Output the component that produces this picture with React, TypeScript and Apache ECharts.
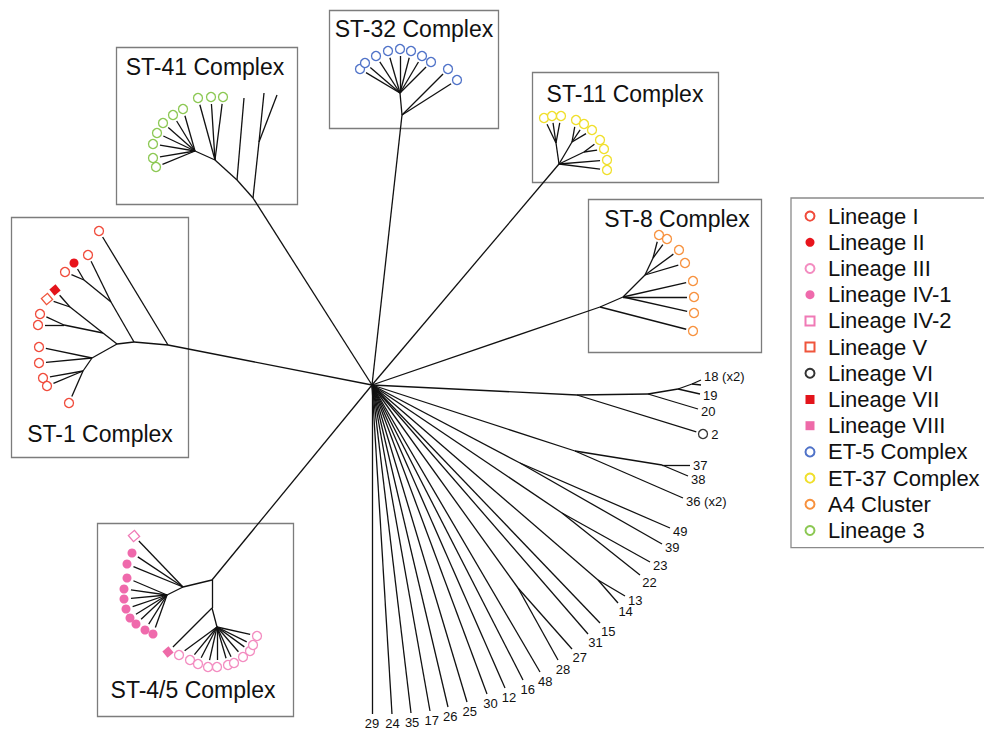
import React, { useEffect, useRef } from "react";
import * as echarts from "echarts";

// ---------------------------------------------------------------------------
// Tree data (plot units: x to the right, y downward)
// ---------------------------------------------------------------------------

// Internal nodes: [id, parent, x, y]
const internalNodes: [string, string | null, number, number][] = [
  ["hub", null, 372, 385],
  // ST-41 complex
  ["a41", "hub", 253, 198],
  ["b41", "a41", 259, 142],
  ["c41", "a41", 237, 180],
  ["d41", "c41", 215, 160],
  ["e41", "d41", 195, 151],
  // ST-32 complex
  ["a32", "hub", 402, 115],
  ["b32", "a32", 400, 93],
  // ST-11 complex
  ["a11", "hub", 559, 164],
  ["b11", "a11", 556, 143],
  ["c11", "a11", 572, 142],
  ["d11", "a11", 584, 152],
  // ST-8 complex
  ["a8", "hub", 600, 307],
  ["b8", "a8", 623, 297],
  ["c8", "b8", 645, 275],
  ["d8", "c8", 653, 258],
  // ST-1 complex
  ["a1", "hub", 168, 345],
  ["b1", "a1", 134, 342],
  ["c1", "b1", 111, 302],
  ["d1", "c1", 84, 280],
  ["e1", "b1", 117, 344],
  ["f1", "e1", 103, 333],
  ["g1", "f1", 64, 325],
  ["h1", "f1", 70, 307],
  ["i1", "e1", 92, 358],
  ["j1", "i1", 83, 371],
  // ST-4/5 complex
  ["a45", "hub", 212, 580],
  ["b45", "a45", 183, 587],
  ["c45", "b45", 167, 595],
  ["d45", "a45", 212, 608],
  ["e45", "d45", 217, 627],
  // unassigned isolates
  ["r1", "hub", 577, 395],
  ["r2", "r1", 648, 394],
  ["r3", "r2", 678, 389],
  ["r4", "r3", 692, 384],
  ["r5", "hub", 575, 451],
  ["r6", "r5", 662, 465],
  ["r7", "hub", 520, 463],
  ["r8", "hub", 562, 513],
  ["r9", "hub", 598, 580],
  ["r10", "hub", 518, 588],
];

// Branch tips without marker or label: [parent, x, y]
const bareTips: [string, number, number][] = [
  ["b41", 264, 93],
  ["b41", 277, 95],
  ["c41", 244, 98],
  ["r4", 701, 385],
];

// Numbered isolates: [label, parent, x, y]
const numberedTips: [string, string, number, number][] = [
  ["18 (x2)", "r4", 701, 380],
  ["19", "r3", 700, 394],
  ["20", "r2", 698, 409],
  ["37", "r6", 690, 465],
  ["38", "r6", 688, 476],
  ["36 (x2)", "r5", 683, 498],
  ["49", "r7", 670, 528],
  ["39", "r7", 662, 544],
  ["23", "r8", 650, 562],
  ["22", "r8", 640, 575],
  ["13", "r9", 625, 596],
  ["14", "r9", 618, 603],
  ["15", "hub", 600, 623],
  ["31", "hub", 588, 634],
  ["27", "r10", 572, 649],
  ["28", "r10", 558, 660],
  ["48", "hub", 540, 672],
  ["16", "hub", 523, 680],
  ["12", "hub", 505, 688],
  ["30", "hub", 487, 694],
  ["25", "hub", 467, 702],
  ["26", "hub", 448, 707],
  ["17", "hub", 430, 711],
  ["35", "hub", 411, 713],
  ["24", "hub", 392, 714],
  ["29", "hub", 372, 714],
];

// Marked isolates per lineage: [parent, x, y, label?]
const lineageI: [string, number, number][] = [
  ["a1", 99, 231], ["c1", 88, 255], ["d1", 65, 272],
  ["g1", 40, 314], ["g1", 38, 325], ["i1", 39, 347], ["i1", 39, 363],
  ["j1", 43, 378], ["j1", 47, 386], ["j1", 69, 403],
];
const lineageII: [string, number, number][] = [["d1", 74, 263]];
const lineageIII: [string, number, number][] = [
  ["e45", 179, 655], ["e45", 190, 660], ["e45", 198, 664], ["e45", 208, 667],
  ["e45", 217, 667], ["e45", 228, 665], ["e45", 234, 663], ["e45", 243, 657],
  ["e45", 250, 651], ["e45", 253, 645], ["e45", 257, 636],
];
const lineageIV1: [string, number, number][] = [
  ["b45", 132, 553], ["b45", 127, 564], ["c45", 127, 578], ["c45", 124, 589],
  ["c45", 124, 599], ["c45", 126, 609], ["c45", 130, 618], ["c45", 136, 624],
  ["c45", 145, 630], ["c45", 153, 634],
];
const lineageIV2: [string, number, number][] = [["b45", 134, 536]];
const lineageV: [string, number, number][] = [["h1", 47, 299]];
const lineageVI: [string, number, number, string][] = [["r1", 703, 434, "2"]];
const lineageVII: [string, number, number][] = [["h1", 55, 290]];
const lineageVIII: [string, number, number][] = [["d45", 168, 652]];
const et5Complex: [string, number, number][] = [
  ["b32", 360, 69], ["b32", 365, 63], ["b32", 376, 56], ["b32", 388, 51],
  ["b32", 400, 49], ["b32", 411, 51], ["b32", 422, 56], ["b32", 431, 62],
  ["a32", 448, 69], ["a32", 457, 80],
];
const et37Complex: [string, number, number][] = [
  ["b11", 544, 118], ["b11", 552, 116], ["b11", 561, 116],
  ["c11", 576, 120], ["c11", 584, 124], ["c11", 592, 130],
  ["d11", 600, 140], ["d11", 604, 149],
  ["a11", 607, 160], ["a11", 607, 170],
];
const a4Cluster: [string, number, number][] = [
  ["d8", 659, 235], ["d8", 667, 239], ["c8", 679, 250], ["c8", 685, 263],
  ["b8", 693, 281], ["b8", 694, 297], ["b8", 694, 313], ["a8", 693, 331],
];
const lineage3: [string, number, number][] = [
  ["d41", 198, 98], ["d41", 211, 97], ["d41", 223, 97],
  ["e41", 183, 109], ["e41", 173, 115], ["e41", 163, 123], ["e41", 157, 133],
  ["e41", 153, 144], ["e41", 153, 158], ["e41", 156, 167],
];

const lineageNames = [
  "Lineage I", "Lineage II", "Lineage III", "Lineage IV-1", "Lineage IV-2",
  "Lineage V", "Lineage VI", "Lineage VII", "Lineage VIII", "ET-5 Complex",
  "ET-37 Complex", "A4 Cluster", "Lineage 3",
];
const lineageMembers: [string, number, number, string?][][] = [
  lineageI, lineageII, lineageIII, lineageIV1, lineageIV2, lineageV, lineageVI,
  lineageVII, lineageVIII, et5Complex, et37Complex, a4Cluster, lineage3,
];

const complexTitles = [
  "ST-41 Complex", "ST-32 Complex", "ST-11 Complex",
  "ST-8 Complex", "ST-1 Complex", "ST-4/5 Complex",
];

// ---------------------------------------------------------------------------
// Styling
// ---------------------------------------------------------------------------
const FONT = '"Liberation Sans", Arial, Helvetica, sans-serif';
const NUM_FONT = 13;
const NUM_COLOR = "#111";

// marker style per lineage (same order as lineageNames)
const markerStyles: { shape: "circle" | "rect"; filled: boolean; color: string }[] = [
  { shape: "circle", filled: false, color: "#f04a3a" },
  { shape: "circle", filled: true, color: "#e8141c" },
  { shape: "circle", filled: false, color: "#f38cc0" },
  { shape: "circle", filled: true, color: "#ef6aac" },
  { shape: "rect", filled: false, color: "#f07ab6" },
  { shape: "rect", filled: false, color: "#ef553c" },
  { shape: "circle", filled: false, color: "#333333" },
  { shape: "rect", filled: true, color: "#e3141b" },
  { shape: "rect", filled: true, color: "#ee6aa8" },
  { shape: "circle", filled: false, color: "#4f72c8" },
  { shape: "circle", filled: false, color: "#f0df2a" },
  { shape: "circle", filled: false, color: "#f7913d" },
  { shape: "circle", filled: false, color: "#8cc853" },
];

// frames around the clonal complexes (same order as complexTitles)
const frameLayout = [
  { x: 116, y: 47, w: 181, h: 157, tx: 205, ty: 67 },
  { x: 329, y: 10, w: 169, h: 118, tx: 414, ty: 29 },
  { x: 532, y: 72, w: 186, h: 110, tx: 625, ty: 94 },
  { x: 588, y: 199, w: 173, h: 153, tx: 677, ty: 219 },
  { x: 11, y: 217, w: 177, h: 240, tx: 100, ty: 434 },
  { x: 97, y: 523, w: 196, h: 193, tx: 193, ty: 690 },
];

const W = 984;
const H = 730;

function shorten(a: number[], b: number[], d: number): number[] {
  const dx = b[0] - a[0];
  const dy = b[1] - a[1];
  const len = Math.hypot(dx, dy) || 1;
  return [b[0] - (dx / len) * d, b[1] - (dy / len) * d];
}

function numberLabel(text: string, extra: Record<string, any>) {
  return {
    show: true,
    formatter: text,
    color: NUM_COLOR,
    fontFamily: FONT,
    fontSize: NUM_FONT,
    textBorderWidth: 0,
    textShadowBlur: 0,
    opacity: 1,
    ...extra,
  };
}

function buildOption() {
  const pos = new Map<string, number[]>();
  internalNodes.forEach(([id, , x, y]) => pos.set(id, [x, y]));

  const segments: { coords: number[][] }[] = [];
  internalNodes.forEach(([, parent, x, y]) => {
    if (parent) segments.push({ coords: [pos.get(parent)!, [x, y]] });
  });
  bareTips.forEach(([p, x, y]) => segments.push({ coords: [pos.get(p)!, [x, y]] }));
  numberedTips.forEach(([, p, x, y]) => segments.push({ coords: [pos.get(p)!, [x, y]] }));
  lineageMembers.forEach((members) =>
    members.forEach(([p, x, y]) => {
      const from = pos.get(p)!;
      segments.push({ coords: [from, shorten(from, [x, y], 7)] });
    })
  );

  // labels for the numbered isolates, placed beyond the tip along the branch
  const tipLabels = numberedTips.map(([label, p, x, y]) => {
    const from = pos.get(p)!;
    const dx = x - from[0];
    const dy = y - from[1];
    const len = Math.hypot(dx, dy) || 1;
    const ux = dx / len;
    const uy = dy / len;
    let ax: number;
    let ay: number;
    let align: string;
    if (ux >= 0.85) {
      ax = x + 3;
      ay = y + uy * 8;
      align = "left";
    } else {
      const halfW = (label.length * NUM_FONT * 0.556) / 2;
      const halfH = NUM_FONT / 2;
      const reach =
        Math.min(ux > 0.01 ? halfW / ux : 1e9, uy > 0.01 ? halfH / uy : 1e9) + 3;
      ax = x + ux * reach;
      ay = y + uy * reach;
      align = "center";
    }
    return {
      value: [ax, ay],
      label: numberLabel(label, { position: "inside", align, verticalAlign: "middle" }),
    };
  });

  const lineageSeries = lineageNames.map((name, i) => {
    const st = markerStyles[i];
    return {
      type: "scatter",
      name,
      silent: true,
      z: 5,
      symbol: st.shape,
      symbolSize: st.shape === "rect" ? 8 : 9,
      symbolRotate: st.shape === "rect" ? 40 : 0,
      itemStyle: st.filled
        ? { color: st.color, opacity: 1 }
        : { color: "#ffffff", borderColor: st.color, borderWidth: 1.3, opacity: 1 },
      data: lineageMembers[i].map((m) => ({
        value: [m[1], m[2]],
        label: m[3] ? numberLabel(m[3], { position: "right", distance: 3 }) : undefined,
      })),
    };
  });

  const graphics: any[] = [];
  frameLayout.forEach((f, i) => {
    graphics.push({
      type: "rect",
      silent: true,
      shape: { x: f.x + 0.5, y: f.y + 0.5, width: f.w, height: f.h },
      style: { fill: "none", stroke: "#7c7c7c", lineWidth: 1.3 },
      z: 0,
    });
    graphics.push({
      type: "text",
      silent: true,
      x: f.tx,
      y: f.ty,
      style: {
        text: complexTitles[i],
        fontFamily: FONT,
        fontSize: 23,
        fill: "#111",
        align: "center",
        verticalAlign: "middle",
      },
      z: 10,
    });
  });

  return {
    animation: false,
    backgroundColor: "#ffffff",
    grid: { left: 0, right: 0, top: 0, bottom: 0, containLabel: false },
    xAxis: { type: "value", min: 0, max: W, show: false },
    yAxis: { type: "value", min: 0, max: H, inverse: true, show: false },
    legend: {
      orient: "vertical",
      left: 791,
      top: 198,
      padding: [5, 14, 4, 13.5],
      itemGap: 0,
      itemWidth: 9,
      itemHeight: 9,
      symbolRotate: 0,
      selectedMode: false,
      borderColor: "#8a8a8a",
      borderWidth: 1.3,
      data: lineageNames,
      textStyle: {
        fontFamily: FONT,
        fontSize: 22,
        color: "#111",
        lineHeight: 26.2,
        padding: [0, 0, 0, 8.5],
      },
    },
    graphic: graphics,
    series: [
      {
        type: "lines",
        name: "branches",
        coordinateSystem: "cartesian2d",
        silent: true,
        z: 2,
        lineStyle: { color: "#111", width: 1.3, opacity: 1, curveness: 0 },
        data: segments,
      },
      ...lineageSeries,
      {
        type: "scatter",
        name: "isolate numbers",
        silent: true,
        z: 6,
        symbolSize: 1,
        itemStyle: { color: "rgba(255,255,255,0)" },
        data: tipLabels,
      },
    ],
  };
}

export default function App() {
  const ref = useRef<HTMLDivElement>(null);
  useEffect(() => {
    if (!ref.current) return;
    const chart = echarts.init(ref.current, null, { renderer: "svg" });
    chart.setOption(buildOption() as any);
    return () => chart.dispose();
  }, []);
  return (
    <div
      ref={ref}
      style={{ position: "fixed", left: 0, top: 0, width: W, height: H, background: "#fff" }}
    />
  );
}
